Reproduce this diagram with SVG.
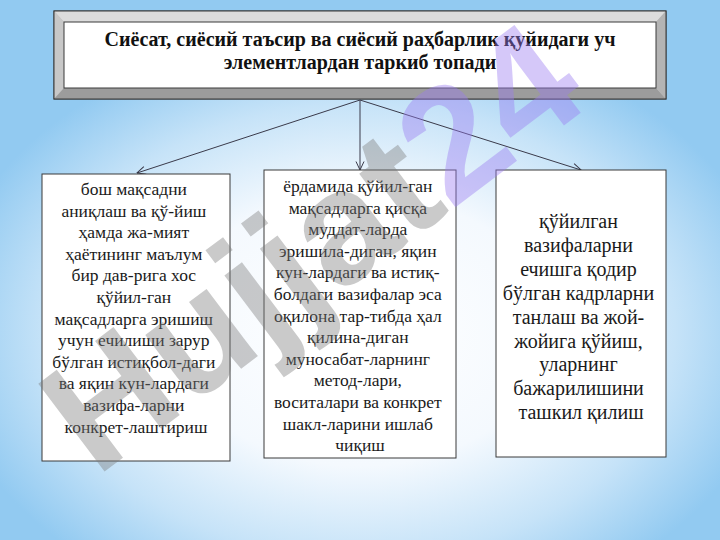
<svg xmlns="http://www.w3.org/2000/svg" width="720" height="540" viewBox="0 0 720 540">
<defs>
<radialGradient id="bg" cx="360" cy="330" r="420" gradientUnits="userSpaceOnUse" gradientTransform="translate(360 330) scale(1 0.72) translate(-360 -330)">
<stop offset="0" stop-color="#ffffff"/>
<stop offset="0.45" stop-color="#f4f9fe"/>
<stop offset="0.75" stop-color="#c6e3f8"/>
<stop offset="1" stop-color="#92caf1"/>
</radialGradient>
<marker id="arr" viewBox="0 0 10 10" refX="9.5" refY="5" markerWidth="10" markerHeight="10" markerUnits="userSpaceOnUse" orient="auto">
<path d="M1,1 L9.5,5 L1,9" fill="none" stroke="#3a3a4a" stroke-width="1"/>
</marker>
<style>
.box{fill:#ffffff;stroke:#3a3a3a;stroke-width:1}
.t{font-family:"Liberation Serif","Times New Roman",serif;font-size:17.5px;fill:#1a1a1a;text-anchor:middle}
.tr{font-family:"Liberation Serif","Times New Roman",serif;font-size:20px;fill:#1a1a1a;text-anchor:middle}
.title{font-family:"Liberation Serif","Times New Roman",serif;font-size:20px;font-weight:bold;fill:#111;text-anchor:middle}
.conn{stroke:#3a3a4a;stroke-width:1;fill:none}
</style>
</defs>
<rect width="720" height="540" fill="url(#bg)"/>

<g id="top">
<rect x="54" y="11" width="612" height="88" fill="#bdbdbd" stroke="#3a3a3a" stroke-width="1"/>
<polygon points="54,11 666,11 656,22 64,22" fill="#dcdcdc"/>
<polygon points="54,11 64,22 64,88 54,99" fill="#c8c8c8"/>
<polygon points="54,99 64,88 656,88 666,99" fill="#9c9c9c"/>
<polygon points="666,11 656,22 656,88 666,99" fill="#b4b4b4"/>
<rect x="54" y="11" width="612" height="88" fill="none" stroke="#3a3a3a" stroke-width="1"/>
<rect x="64" y="22" width="592" height="66" fill="#ffffff" stroke="#3a3a3a" stroke-width="1"/>
<text class="title" x="360" y="46">Сиёсат, сиёсий таъсир ва сиёсий раҳбарлик қуйидаги уч</text>
<text class="title" x="360" y="69">элементлардан таркиб топади</text>
</g>

<g id="connectors">
<line class="conn" x1="360" y1="100" x2="137" y2="173" marker-end="url(#arr)"/>
<line class="conn" x1="360" y1="100" x2="360" y2="170" marker-end="url(#arr)"/>
<line class="conn" x1="360" y1="100" x2="581" y2="170" marker-end="url(#arr)"/>
</g>

<g id="left">
<rect class="box" x="42" y="174" width="188" height="287"/>
<text class="t" x="136" y="195">
<tspan x="136" dy="0">бош мақсадни</tspan>
<tspan x="136" dy="21.6">аниқлаш ва қў-йиш</tspan>
<tspan x="136" dy="21.6">ҳамда жа-мият</tspan>
<tspan x="136" dy="21.6">ҳаётининг маълум</tspan>
<tspan x="136" dy="21.6">бир дав-рига хос</tspan>
<tspan x="136" dy="21.6">қўйил-ган</tspan>
<tspan x="136" dy="21.6">мақсадларга эришиш</tspan>
<tspan x="136" dy="21.6">учун ечилиши зарур</tspan>
<tspan x="136" dy="21.6">бўлган истиқбол-даги</tspan>
<tspan x="136" dy="21.6">ва яқин кун-лардаги</tspan>
<tspan x="136" dy="21.6">вазифа-ларни</tspan>
<tspan x="136" dy="21.6">конкрет-лаштириш</tspan>
</text>
</g>

<g id="middle">
<rect class="box" x="264" y="170" width="192" height="288"/>
<text class="t" x="360" y="192">
<tspan x="360" dy="0">ёрдамида қўйил-ган</tspan>
<tspan x="360" dy="21.6">мақсадларга қисқа</tspan>
<tspan x="360" dy="21.6">муддат-ларда</tspan>
<tspan x="360" dy="21.6">эришила-диган, яқин</tspan>
<tspan x="360" dy="21.6">кун-лардаги ва истиқ-</tspan>
<tspan x="360" dy="21.6">болдаги вазифалар эса</tspan>
<tspan x="360" dy="21.6">оқилона тар-тибда ҳал</tspan>
<tspan x="360" dy="21.6">қилина-диган</tspan>
<tspan x="360" dy="21.6">муносабат-ларнинг</tspan>
<tspan x="360" dy="21.6">метод-лари,</tspan>
<tspan x="360" dy="21.6">воситалари ва конкрет</tspan>
<tspan x="360" dy="21.6">шакл-ларини ишлаб</tspan>
<tspan x="360" dy="21.6">чиқиш</tspan>
</text>
</g>

<g id="right">
<rect class="box" x="496" y="170" width="170" height="287"/>
<text class="tr" x="581" y="228">
<tspan x="581" dy="0">қўйилган</tspan>
<tspan x="581" dy="23.9">вазифаларни</tspan>
<tspan x="581" dy="23.9">ечишга қодир</tspan>
<tspan x="581" dy="23.9">бўлган кадрларни</tspan>
<tspan x="581" dy="23.9">танлаш ва жой-</tspan>
<tspan x="581" dy="23.9">жойига қўйиш,</tspan>
<tspan x="581" dy="23.9">уларнинг</tspan>
<tspan x="581" dy="23.9">бажарилишини</tspan>
<tspan x="581" dy="23.9">ташкил қилиш</tspan>
</text>
</g>

<g id="watermark" transform="translate(96 478) rotate(-37)" font-family="'Liberation Sans',Arial,sans-serif" font-weight="bold" font-size="160">
<text x="0" y="0"><tspan fill="#7a7a7a" fill-opacity="0.4">Hujjat</tspan><tspan fill="#9b7cf0" fill-opacity="0.42">24</tspan></text>
</g>
</svg>
